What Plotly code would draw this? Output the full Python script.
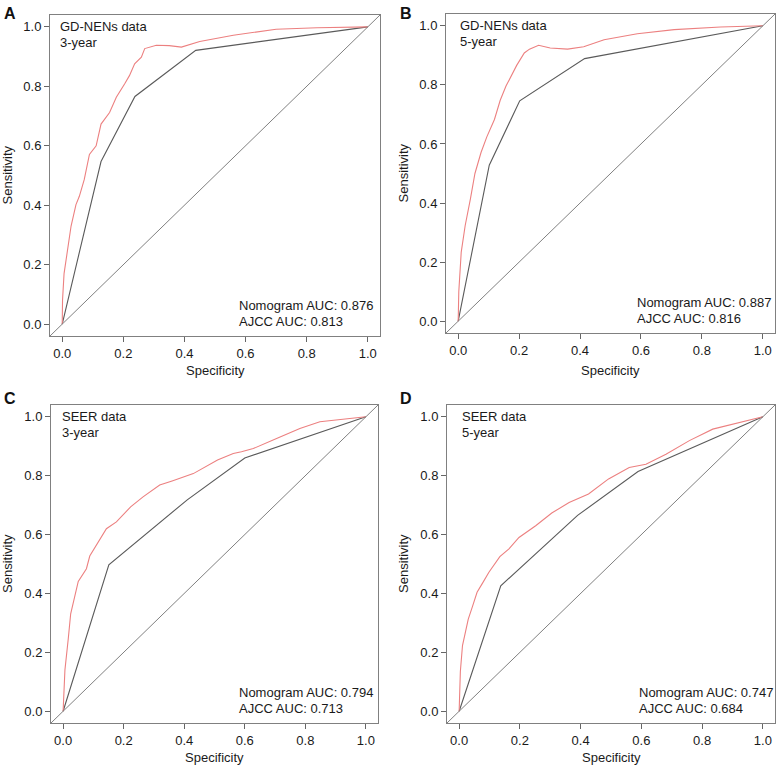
import plotly.graph_objects as go

# ---------------- data ----------------
ticks = [0.0, 0.2, 0.4, 0.6, 0.8, 1.0]
tick_labels = ["0.0", "0.2", "0.4", "0.6", "0.8", "1.0"]

# Panel A: GD-NENs 3-year
a_nomo_x = [0, 0.001, 0.006, 0.018, 0.029, 0.045, 0.056, 0.072, 0.089, 0.111, 0.127, 0.155, 0.177, 0.204, 0.22, 0.237, 0.259, 0.27, 0.308, 0.35, 0.39, 0.45, 0.56, 0.70, 0.834, 1.0]
a_nomo_y = [0, 0.08, 0.17, 0.255, 0.33, 0.402, 0.43, 0.486, 0.571, 0.60, 0.673, 0.712, 0.763, 0.808, 0.836, 0.876, 0.898, 0.927, 0.938, 0.937, 0.932, 0.951, 0.972, 0.992, 0.997, 1.0]
a_ajcc_x = [0, 0.127, 0.238, 0.437, 1.0]
a_ajcc_y = [0, 0.547, 0.766, 0.921, 1.0]

# Panel B: GD-NENs 5-year
b_nomo_x = [0, 0.002, 0.01, 0.023, 0.04, 0.055, 0.075, 0.094, 0.119, 0.138, 0.157, 0.169, 0.192, 0.217, 0.234, 0.264, 0.302, 0.359, 0.412, 0.479, 0.588, 0.709, 0.861, 1.0]
b_nomo_y = [0, 0.10, 0.234, 0.324, 0.413, 0.50, 0.571, 0.624, 0.683, 0.748, 0.796, 0.822, 0.866, 0.908, 0.921, 0.934, 0.925, 0.921, 0.929, 0.953, 0.973, 0.987, 0.996, 1.0]
b_ajcc_x = [0, 0.102, 0.202, 0.415, 1.0]
b_ajcc_y = [0, 0.528, 0.746, 0.889, 1.0]

# Panel C: SEER 3-year
c_nomo_x = [0, 0.006, 0.017, 0.025, 0.05, 0.077, 0.088, 0.116, 0.143, 0.176, 0.223, 0.264, 0.319, 0.36, 0.43, 0.51, 0.562, 0.589, 0.628, 0.705, 0.782, 0.848, 0.925, 1.0]
c_nomo_y = [0, 0.14, 0.246, 0.331, 0.441, 0.484, 0.527, 0.575, 0.62, 0.643, 0.694, 0.728, 0.768, 0.782, 0.807, 0.853, 0.875, 0.881, 0.892, 0.926, 0.960, 0.983, 0.992, 1.0]
c_ajcc_x = [0, 0.151, 0.41, 0.60, 1.0]
c_ajcc_y = [0, 0.497, 0.718, 0.86, 1.0]

# Panel D: SEER 5-year
d_nomo_x = [0, 0.004, 0.011, 0.03, 0.044, 0.059, 0.077, 0.098, 0.134, 0.164, 0.197, 0.252, 0.305, 0.362, 0.426, 0.492, 0.56, 0.589, 0.615, 0.681, 0.758, 0.835, 0.901, 1.0]
d_nomo_y = [0, 0.135, 0.223, 0.313, 0.356, 0.404, 0.435, 0.472, 0.525, 0.551, 0.590, 0.630, 0.673, 0.709, 0.738, 0.789, 0.828, 0.834, 0.839, 0.873, 0.919, 0.958, 0.975, 1.0]
d_ajcc_x = [0, 0.137, 0.39, 0.589, 1.0]
d_ajcc_y = [0, 0.426, 0.665, 0.814, 1.0]

panel_letters = ["A", "B", "C", "D"]
panel_titles = [("GD-NENs data", "3-year"), ("GD-NENs data", "5-year"),
                ("SEER data", "3-year"), ("SEER data", "5-year")]
nomo_auc = ["0.876", "0.887", "0.794", "0.747"]
ajcc_auc = ["0.813", "0.816", "0.713", "0.684"]

# ---------------- styling / layout ----------------
W, H = 777, 765
FONT = "Liberation Sans, Arial, sans-serif"
RED = "#EC8080"
DARK = "#5a5a5a"
DIAG = "#808080"
FRAME = "#808080"
TXT = "#1a1a1a"
AX_RANGE = [-0.04, 1.04]

# pixel boxes (left, right, top, bottom)
boxes = [(50, 380, 15, 336), (446, 775, 14, 333), (51, 378, 405, 723), (447, 775, 405, 723)]
letter_pos = [(2, 3), (398, 3), (2, 388), (398, 388)]
ylab_x = [7, 403, 7, 403]
xlab_y = [370, 370, 757, 757]
top_text_x = [-0.015, 0.0, -0.009, 0.002]
auc_text_x = [0.571, 0.58, 0.573, 0.584]

series = [
    (a_nomo_x, a_nomo_y, a_ajcc_x, a_ajcc_y),
    (b_nomo_x, b_nomo_y, b_ajcc_x, b_ajcc_y),
    (c_nomo_x, c_nomo_y, c_ajcc_x, c_ajcc_y),
    (d_nomo_x, d_nomo_y, d_ajcc_x, d_ajcc_y),
]

fig = go.Figure()
annotations = []
shapes = []
layout_axes = {}

for i, (nx, ny, ax_, ay) in enumerate(series):
    k = "" if i == 0 else str(i + 1)
    xa, ya = "x" + k, "y" + k
    l, r, t, b = boxes[i]
    common = dict(range=AX_RANGE, tickvals=ticks, ticktext=tick_labels, ticks="outside",
                  ticklen=5, tickcolor="#666", tickwidth=1, showline=True, mirror=True,
                  linecolor=FRAME, linewidth=1, showgrid=False, zeroline=False,
                  tickfont=dict(family=FONT, size=13, color=TXT), fixedrange=True)
    layout_axes["xaxis" + k] = dict(domain=[l / W, r / W], anchor=ya, **common)
    layout_axes["yaxis" + k] = dict(domain=[1 - b / H, 1 - t / H], anchor=xa, **common)

    # diagonal reference line across the whole box
    shapes.append(dict(type="line", xref=xa, yref=ya, x0=AX_RANGE[0], y0=AX_RANGE[0],
                       x1=AX_RANGE[1], y1=AX_RANGE[1], line=dict(color=DIAG, width=1)))

    fig.add_trace(go.Scatter(x=ax_, y=ay, mode="lines", line=dict(color=DARK, width=1.1),
                             xaxis=xa, yaxis=ya, showlegend=False, hoverinfo="skip"))
    fig.add_trace(go.Scatter(x=nx, y=ny, mode="lines", line=dict(color=RED, width=1.1),
                             xaxis=xa, yaxis=ya, showlegend=False, hoverinfo="skip"))

    t1, t2 = panel_titles[i]
    annotations.append(dict(text=t1, xref=xa, yref=ya, x=top_text_x[i], y=1.0,
                            xanchor="left", yanchor="middle", showarrow=False,
                            font=dict(family=FONT, size=13, color=TXT)))
    annotations.append(dict(text=t2, xref=xa, yref=ya, x=top_text_x[i], y=0.948,
                            xanchor="left", yanchor="middle", showarrow=False,
                            font=dict(family=FONT, size=13, color=TXT)))
    annotations.append(dict(text="Nomogram AUC: " + nomo_auc[i], xref=xa, yref=ya,
                            x=auc_text_x[i], y=0.064, xanchor="left", yanchor="middle",
                            showarrow=False, font=dict(family=FONT, size=13, color=TXT)))
    annotations.append(dict(text="AJCC AUC: " + ajcc_auc[i], xref=xa, yref=ya,
                            x=auc_text_x[i], y=0.01, xanchor="left", yanchor="middle",
                            showarrow=False, font=dict(family=FONT, size=13, color=TXT)))

    annotations.append(dict(text="Sensitivity", xref="paper", yref="paper",
                            x=ylab_x[i] / W, y=1 - ((t + b) / 2) / H, textangle=-90,
                            xanchor="center", yanchor="middle", showarrow=False,
                            font=dict(family=FONT, size=13, color=TXT)))
    annotations.append(dict(text="Specificity", xref="paper", yref="paper",
                            x=((l + r) / 2) / W, y=1 - xlab_y[i] / H,
                            xanchor="center", yanchor="middle", showarrow=False,
                            font=dict(family=FONT, size=13, color=TXT)))
    lx, ly = letter_pos[i]
    annotations.append(dict(text="<b>" + panel_letters[i] + "</b>", xref="paper", yref="paper",
                            x=lx / W, y=1 - ly / H, xanchor="left", yanchor="top",
                            showarrow=False, font=dict(family=FONT, size=16, color="#111")))

fig.update_layout(width=W, height=H, margin=dict(l=0, r=0, t=0, b=0),
                  paper_bgcolor="white", plot_bgcolor="white",
                  annotations=annotations, shapes=shapes, **layout_axes)

fig.write_html("out.html", config={"displayModeBar": False},
               post_script="document.body.style.margin='0';document.body.style.overflow='hidden';")
